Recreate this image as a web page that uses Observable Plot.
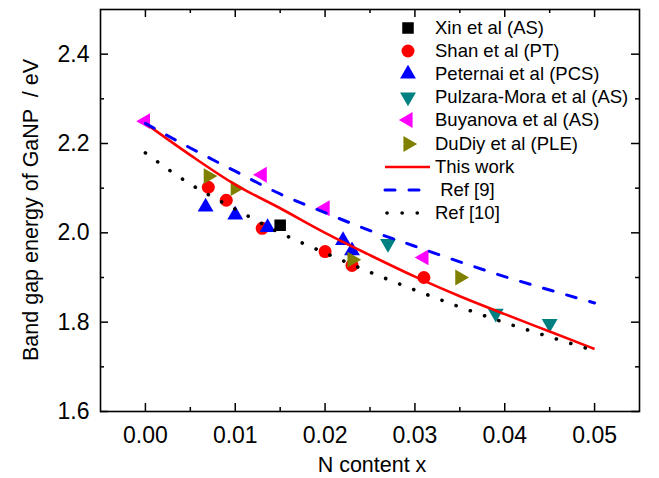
<!DOCTYPE html>
<html><head><meta charset="utf-8">
<script src="https://cdn.jsdelivr.net/npm/d3@7"></script>
<script src="https://cdn.jsdelivr.net/npm/@observablehq/plot@0.6"></script>
<style>
body{margin:0;background:#fff;}
#wrap{position:relative;width:659px;height:478px;font-family:"Liberation Sans",Arial,Helvetica,sans-serif;color:#000;}
#legend{position:absolute;left:380px;top:16.5px;font-size:18.5px;}
.row{display:flex;align-items:center;height:23.1px;white-space:pre;}
.row svg{width:55px;height:22px;flex:none;}
.ytitle{position:absolute;left:31px;top:210px;transform:translate(-50%,-50%) rotate(-90deg);font-size:21.5px;white-space:pre;}
.xtitle{position:absolute;left:372px;top:465px;transform:translate(-50%,-50%);font-size:21.5px;white-space:pre;}
</style></head><body><div id="wrap"></div>
<script>
// ---- data ----
const xinX = [0.015];
const xinY = [2.017];
const shanX = [0.007, 0.009, 0.013, 0.020, 0.023, 0.031];
const shanY = [2.102, 2.073, 2.010, 1.958, 1.927, 1.900];
const peternaiX = [0.0067, 0.010, 0.0136, 0.022, 0.023];
const peternaiY = [2.058, 2.040, 2.012, 1.983, 1.960];
const pulzaraX = [0.027, 0.039, 0.045];
const pulzaraY = [1.976, 1.820, 1.797];
const buyanovaX = [0.000, 0.013, 0.020, 0.031];
const buyanovaY = [2.250, 2.130, 2.055, 1.945];
const dudiyX = [0.007, 0.010, 0.023, 0.035];
const dudiyY = [2.127, 2.100, 1.940, 1.900];

const curveX = [0, 0.005, 0.01, 0.015, 0.02, 0.025, 0.03, 0.035, 0.04, 0.045, 0.05];
const thisWorkY = [2.245, 2.174, 2.108, 2.055, 2.000, 1.950, 1.902, 1.858, 1.818, 1.779, 1.740];
const ref9Y = [2.245, 2.190, 2.138, 2.087, 2.045, 2.005, 1.970, 1.935, 1.902, 1.872, 1.843];
const ref10Y = [2.179, 2.109, 2.053, 2.000, 1.955, 1.912, 1.872, 1.834, 1.799, 1.767, 1.736];

const xMajor = [0, 0.01, 0.02, 0.03, 0.04, 0.05];
const xMinor = [0.005, 0.015, 0.025, 0.035, 0.045];
const yMajor = [1.6, 1.8, 2.0, 2.2, 2.4];
const yMinor = [1.7, 1.9, 2.1, 2.3];

const seriesNames = ["Xin et al (AS)", "Shan et al (PT)", "Peternai et al (PCS)", "Pulzara-Mora et al (AS)", "Buyanova et al (AS)", "DuDiy et al (PLE)"];
const lineNames = ["This work", " Ref [9]", "Ref [10]"];
const xTitle = "N content x";
const yTitle = "Band gap energy of GaNP  / eV";

// ---- symbols ----
function tri(dir) {
  return {draw(ctx, size) {
    const h = Math.sqrt(size / (3 * Math.sqrt(3))), s3 = Math.sqrt(3);
    let pts = [[0, -2 * h], [-s3 * h, h], [s3 * h, h]];
    if (dir === "down") pts = pts.map(([x, y]) => [x, -y]);
    if (dir === "left") pts = pts.map(([x, y]) => [y, x]);
    if (dir === "right") pts = pts.map(([x, y]) => [-y, x]);
    ctx.moveTo(pts[0][0], pts[0][1]); ctx.lineTo(pts[1][0], pts[1][1]); ctx.lineTo(pts[2][0], pts[2][1]); ctx.closePath();
  }};
}
const series = [
  {x: xinX, y: xinY, color: "#000000", symbol: d3.symbolSquare, r: 6.5},
  {x: shanX, y: shanY, color: "#ff0000", symbol: d3.symbolCircle, r: 6.5},
  {x: peternaiX, y: peternaiY, color: "#0000ff", symbol: tri("up"), r: 5.9},
  {x: pulzaraX, y: pulzaraY, color: "#008080", symbol: tri("down"), r: 5.9},
  {x: buyanovaX, y: buyanovaY, color: "#ff00ff", symbol: tri("left"), r: 5.9},
  {x: dudiyX, y: dudiyY, color: "#808000", symbol: tri("right"), r: 5.9}
];
const lines = [
  {y: thisWorkY, color: "#ff0000", width: 2.6, dash: null, cap: "butt"},
  {y: ref9Y, color: "#0000ff", width: 3, dash: "10,14", cap: "round"},
  {y: ref10Y, color: "#000000", width: 3.6, dash: "0.1,15", cap: "round"}
];

const W = 659, H = 478, mL = 100, mR = 20, mT = 9, mB = 67;
const ph = H - mT - mB, pw = W - mL - mR;
const font = '"Liberation Sans", Arial, Helvetica, sans-serif';

const marks = [];
series.forEach(s => {
  marks.push(Plot.dot(s.x.map((x, i) => ({x, y: s.y[i]})), {x: "x", y: "y", symbol: () => s.symbol, r: s.r, fill: s.color, stroke: "none"}));
});
lines.forEach(l => {
  marks.push(Plot.line(curveX.map((x, i) => ({x, y: l.y[i]})), {x: "x", y: "y", stroke: l.color, strokeWidth: l.width, strokeDasharray: l.dash, strokeLinecap: l.cap, curve: "monotone-x"}));
});
marks.push(
  Plot.frame({stroke: "#000", strokeWidth: 1.6}),
  Plot.tickX(xMajor, {x: d => d, insetTop: ph - 8, stroke: "#000", strokeWidth: 1.5}),
  Plot.tickX(xMinor, {x: d => d, insetTop: ph - 4, stroke: "#000", strokeWidth: 1.5}),
  Plot.tickX(xMajor, {x: d => d, insetBottom: ph - 8, stroke: "#000", strokeWidth: 1.5}),
  Plot.tickX(xMinor, {x: d => d, insetBottom: ph - 4, stroke: "#000", strokeWidth: 1.5}),
  Plot.tickY(yMajor, {y: d => d, insetRight: pw - 8, stroke: "#000", strokeWidth: 1.5}),
  Plot.tickY(yMinor, {y: d => d, insetRight: pw - 4, stroke: "#000", strokeWidth: 1.5}),
  Plot.tickY(yMajor, {y: d => d, insetLeft: pw - 8, stroke: "#000", strokeWidth: 1.5}),
  Plot.tickY(yMinor, {y: d => d, insetLeft: pw - 4, stroke: "#000", strokeWidth: 1.5}),
  Plot.axisX({ticks: xMajor, tickSize: 0, tickPadding: 15, tickFormat: d3.format(".2f"), label: null, fontSize: 23, fill: "#000"}),
  Plot.axisY({ticks: yMajor, tickSize: 0, tickPadding: 11, tickFormat: d3.format(".1f"), label: null, fontSize: 23, fill: "#000"})
);

const chart = Plot.plot({
  width: W, height: H, marginLeft: mL, marginRight: mR, marginTop: mT, marginBottom: mB,
  style: {fontFamily: font, background: "#fff", color: "#000", overflow: "visible"},
  x: {domain: [-0.005, 0.055]},
  y: {domain: [1.6, 2.5]},
  marks
});

const wrap = document.getElementById("wrap");
wrap.appendChild(chart);

// axis titles
const yt = document.createElement("div"); yt.className = "ytitle"; yt.textContent = yTitle; wrap.appendChild(yt);
const xt = document.createElement("div"); xt.className = "xtitle"; xt.textContent = xTitle; wrap.appendChild(xt);

// legend
const legend = document.createElement("div"); legend.id = "legend"; wrap.appendChild(legend);
const ns = "http://www.w3.org/2000/svg";
series.forEach((s, i) => {
  const row = document.createElement("div"); row.className = "row";
  const svg = document.createElementNS(ns, "svg");
  const p = document.createElementNS(ns, "path");
  p.setAttribute("d", d3.symbol(s.symbol, Math.PI * s.r * s.r)());
  p.setAttribute("transform", "translate(28,11)");
  p.setAttribute("fill", s.color);
  svg.appendChild(p); row.appendChild(svg);
  const t = document.createElement("span"); t.textContent = seriesNames[i]; row.appendChild(t);
  legend.appendChild(row);
});
lines.forEach((l, i) => {
  const row = document.createElement("div"); row.className = "row";
  const svg = document.createElementNS(ns, "svg");
  const ln = document.createElementNS(ns, "line");
  ln.setAttribute("x1", i === 2 ? 7 : 5); ln.setAttribute("x2", i === 0 ? 50 : (i === 1 ? 46 : 40));
  ln.setAttribute("y1", 11); ln.setAttribute("y2", 11);
  ln.setAttribute("stroke", l.color); ln.setAttribute("stroke-width", l.width);
  if (l.dash) ln.setAttribute("stroke-dasharray", l.dash);
  ln.setAttribute("stroke-linecap", l.cap);
  svg.appendChild(ln); row.appendChild(svg);
  const t = document.createElement("span"); t.textContent = lineNames[i]; row.appendChild(t);
  legend.appendChild(row);
});
</script>
</body></html>
